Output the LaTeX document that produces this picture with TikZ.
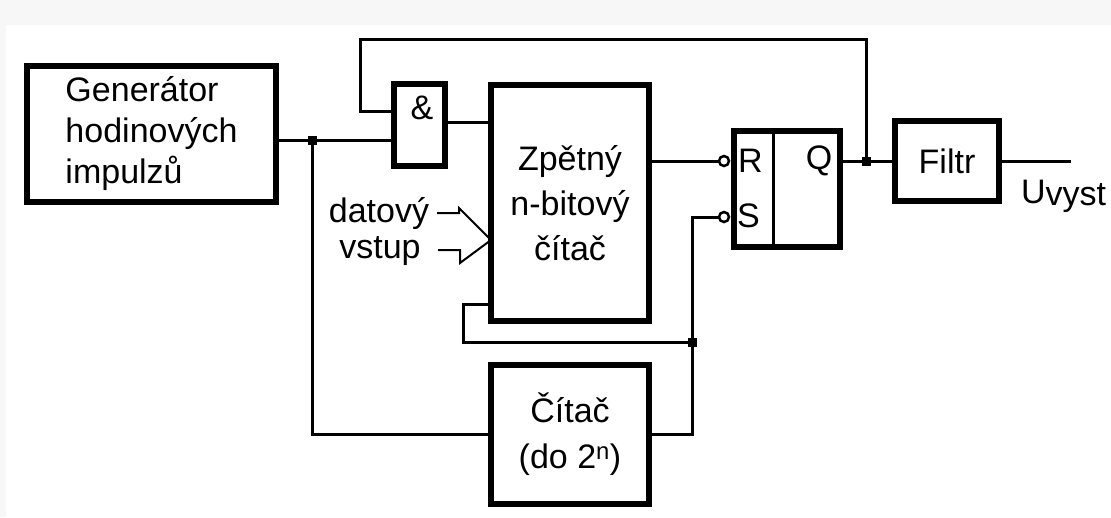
\documentclass[tikz,border=0pt]{standalone}
\usepackage{fontspec}
\setmainfont{Liberation Sans}
\newcommand\dgfont{\fontsize{34}{41}\selectfont}
\begin{document}
\begin{tikzpicture}[x=1pt,y=-1pt,
  blk/.style={draw,line width=6pt,inner sep=0pt,outer sep=0pt,align=center,font=\dgfont},
  wire/.style={line width=3pt},
  dotj/.style={fill,rectangle,inner sep=0pt,outer sep=0pt,minimum size=9pt},
  bub/.style={draw,circle,line width=2.5pt,inner sep=0pt,outer sep=0pt,minimum size=10pt,fill=white},
  lbl/.style={inner sep=0pt,outer sep=0pt,font=\dgfont}]
\useasboundingbox (0,0) rectangle (1111,517);
\fill[black!3] (0,0) rectangle (1111,25);
\fill[black!3] (0,0) rectangle (6,517);

% blocks
\node[blk,align=left,minimum width=249pt,minimum height=136pt] (gen) at (151.5,134)
  {Generátor\\hodinových\\impulzů};
\node[blk,minimum width=51pt,minimum height=82pt] (andg) at (419.5,125) {};
\node[lbl] (andt) at (422,108) {\&};
\node[blk,minimum width=158pt,minimum height=236pt] (zp) at (570,203)
  {Zpětný\\[4pt]n-bitový\\[4pt]čítač};
\node[blk,minimum width=158pt,minimum height=139pt] (cit) at (570,434.5)
  {Čítač\\[5pt](do 2\textsuperscript{n})};
\node[blk,minimum width=106pt,minimum height=116pt] (rs) at (787,189) {};
\node[blk,minimum width=104pt,minimum height=80pt] (filt) at (947,161) {Filtr};

% RS labels
\node[lbl] (rl) at (750.5,160.5) {R};
\node[lbl] (sl) at (748.5,216) {S};
\node[lbl] (ql) at (819,160.5) {Q};
\coordinate (dv) at (773,0);
\draw[wire] (rs.north -| dv) -- (rs.south -| dv);

% data input labels
\node[lbl,anchor=base] (dat) at (379,222) {datový};
\node[lbl,anchor=base] (vst) at (380,258) {vstup};
\node[lbl,anchor=base west] (uv) at (1021,203) {U\raisebox{-2pt}{vyst}};

% junctions and bubbles
\node[dotj] (j1) at (312,140) {};
\node[dotj] (j3) at (692,342) {};
\node[dotj] (jq) at (866,161) {};
\node[bub] (rb) at (724,161) {};
\node[bub] (sb) at (724,217) {};

\coordinate (ay) at (0,122);
\coordinate (ly) at (0,111);
\coordinate (lt) at (360,39);
\coordinate (lp) at (463,304);
\coordinate (out) at (1071,161);
\coordinate (tip) at (0,240);

% wires
\draw[wire] (gen.east |- j1) -- (andg.west |- j1);
\draw[wire] (j1.center) |- (cit.west);
\draw[wire] (andg.east |- ay) -- (zp.west |- ay);
\draw[wire] (jq.center) |- (lt) -- (lt |- ly) -- (andg.west |- ly);
\draw[wire] (zp.east |- rb) -- (rb.west);
\draw[wire] (rs.east |- jq) -- (filt.west |- jq);
\draw[wire] (filt.east |- out) -- (out);
\draw[wire] (sb.west) -| (cit.east -| j3) -- (cit.east);
\draw[wire] (j3.center) -| (lp) -- (zp.west |- lp);

% bus arrow
\draw[line width=2pt] (437,213) -- (459,213) -- (459,208) -- (zp.west |- tip);
\draw[line width=2pt] (438,250) -- (460,250) -- (460,263) -- (zp.west |- tip);
\end{tikzpicture}
\end{document}
